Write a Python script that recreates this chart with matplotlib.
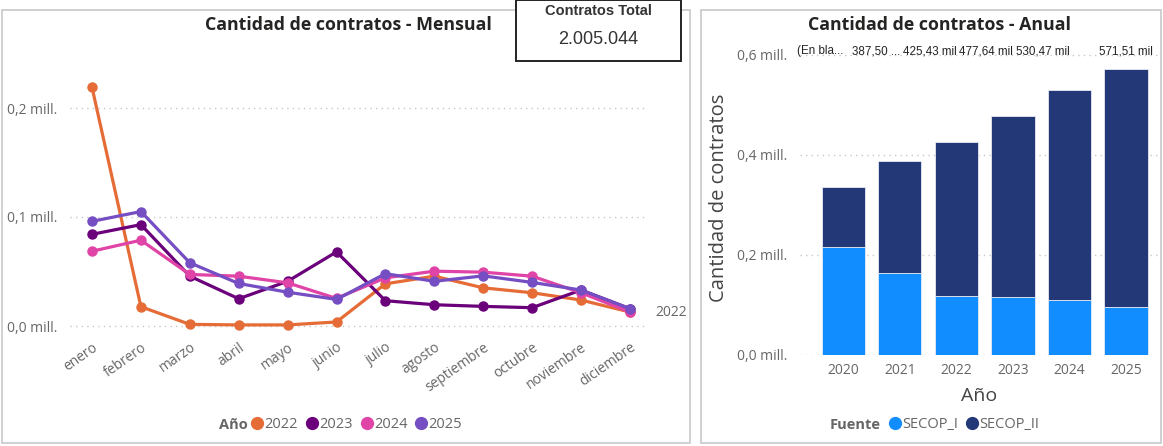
import matplotlib.pyplot as plt
import matplotlib.patches as patches
from matplotlib.lines import Line2D
import numpy as np

plt.rcParams['font.family'] = ['Open Sans', 'DejaVu Sans']

meses = ['enero', 'febrero', 'marzo', 'abril', 'mayo', 'junio', 'julio',
         'agosto', 'septiembre', 'octubre', 'noviembre', 'diciembre']
anios_linea = ['2022', '2023', '2024', '2025']
# millones de contratos por mes
m2022 = [0.219, 0.0177, 0.0015, 0.001, 0.001, 0.0037, 0.0387, 0.0457, 0.035, 0.0305, 0.0238, 0.0128]
m2023 = [0.0841, 0.093, 0.0457, 0.025, 0.041, 0.068, 0.0232, 0.0195, 0.018, 0.0168, 0.033, 0.0159]
m2024 = [0.0686, 0.0787, 0.0473, 0.0457, 0.0396, 0.0253, 0.0442, 0.0503, 0.0494, 0.0457, 0.0305, 0.0128]
m2025 = [0.096, 0.105, 0.058, 0.039, 0.031, 0.0244, 0.048, 0.041, 0.046, 0.040, 0.033, 0.0159]
colores_linea = ['#E66C37', '#6B007B', '#E044A7', '#744EC2']

anios_barra = ['2020', '2021', '2022', '2023', '2024', '2025']
secop_i = [0.2166, 0.1646, 0.1186, 0.1153, 0.110, 0.0953]
total_anual = [0.3366, 0.3875, 0.42543, 0.47764, 0.53047, 0.57151]
secop_ii = [t - s for t, s in zip(total_anual, secop_i)]
etiquetas_total = ['(En bla...', '387,50 ...', '425,43 mil', '477,64 mil', '530,47 mil', '571,51 mil']
color_i = '#118DFF'
color_ii = '#233876'

W, H = 1163, 446
fig = plt.figure(figsize=(W / 100, H / 100), dpi=100)

def fr(x0, y0, x1, y1):
    # pixel box -> figure fraction [left, bottom, width, height]
    return [x0 / W, 1 - y1 / H, (x1 - x0) / W, (y1 - y0) / H]

gray_txt = '#666666'
dark_txt = '#252423'

# panel borders
for (x0, y0, x1, y1) in [(2, 10, 690, 443), (701, 10, 1161, 443)]:
    fig.patches.append(patches.Rectangle((x0 / W, 1 - y1 / H), (x1 - x0) / W, (y1 - y0) / H,
                                         transform=fig.transFigure, fill=False,
                                         edgecolor='#c8c8c8', linewidth=1.2))

# ---- monthly lines ----
ax = fig.add_axes(fr(70, 40, 648, 335))
X = np.arange(len(meses))
for serie, anio, c in zip([m2022, m2023, m2024, m2025], anios_linea, colores_linea):
    ax.plot(X, serie, color=c, linewidth=2.3, marker='o', markersize=6.5, label=anio, clip_on=False)
ax.set_xlim(-0.45, 11.37)
ax.set_ylim(-9 / 1090, 286 / 1090)
ax.set_yticks([0, 0.1, 0.2])
ax.set_yticklabels(['0,0 mill.', '0,1 mill.', '0,2 mill.'])
ax.grid(axis='y', linestyle=(0, (1, 3)), color='#c8c8c8', linewidth=1)
ax.set_xticks(X)
ax.set_xticklabels(meses, rotation=35, ha='right', rotation_mode='anchor')
ax.tick_params(length=0, labelsize=10, labelcolor=gray_txt)
ax.tick_params(axis='y', pad=9)
for s in ax.spines.values():
    s.set_visible(False)
ax.annotate('2022', (11, m2022[-1]), xytext=(18, 0), textcoords='offset points',
            va='center', ha='left', fontsize=10, color=gray_txt)
fig.text(348 / W, 1 - 25 / H, 'Cantidad de contratos - Mensual', ha='center', va='center',
         fontsize=12.8, fontweight='bold', color=dark_txt)
fig.text(219 / W, 1 - 425 / H, 'Año', ha='left', va='center', fontsize=10.5,
         fontweight='bold', color=gray_txt)
handles = [Line2D([], [], marker='o', linestyle='none', color=c, markersize=8.5) for c in colores_linea]
fig.legend(handles, anios_linea, loc='center left', bbox_to_anchor=(250 / W, 1 - 425 / H),
           ncol=4, frameon=False, handletextpad=0.0, columnspacing=0.45, handlelength=1.0,
           fontsize=10.5, labelcolor=gray_txt, borderaxespad=0, borderpad=0)

# ---- total card ----
fig.patches.append(patches.Rectangle((516 / W, 1 - 61 / H), 165 / W, 61 / H,
                                     transform=fig.transFigure, facecolor='white',
                                     edgecolor='#222222', linewidth=1.4, zorder=5))
fig.text(598 / W, 1 - 11 / H, 'Contratos Total', ha='center', va='center', fontsize=10.5,
         fontweight='bold', color='#333333', family='Liberation Sans', zorder=6)
fig.text(598 / W, 1 - 40 / H, '2.005.044', ha='center', va='center', fontsize=13,
         color='#333333', family='Liberation Sans', zorder=6)

# ---- annual bars ----
bx = fig.add_axes(fr(800, 40, 1158, 355))
XB = np.arange(len(anios_barra))
bx.bar(XB, secop_i, width=0.765, color=color_i, edgecolor='#e6e9f2', linewidth=0.6, label='SECOP_I')
bx.bar(XB, secop_ii, width=0.765, bottom=secop_i, color=color_ii, edgecolor='#e6e9f2',
       linewidth=0.6, label='SECOP_II')
bx.set_xlim(-0.765, 5.565)
bx.set_ylim(0, 0.63)
bx.set_yticks([0, 0.2, 0.4, 0.6])
bx.set_yticklabels(['0,0 mill.', '0,2 mill.', '0,4 mill.', '0,6 mill.'])
bx.set_xticks(XB)
bx.set_xticklabels(anios_barra)
bx.grid(axis='y', linestyle=(0, (1, 3)), color='#c8c8c8', linewidth=1)
bx.set_axisbelow(True)
bx.tick_params(length=0, labelsize=10, labelcolor=gray_txt)
bx.tick_params(axis='y', pad=9)
bx.tick_params(axis='x', pad=6)
for s in bx.spines.values():
    s.set_visible(False)
bx.set_xlabel('Año', fontsize=14, color='#444444', labelpad=6)
bx.set_ylabel('Cantidad de contratos', fontsize=14.5, color='#444444', labelpad=6)
for i, lab in enumerate(etiquetas_total):
    ha = 'center' if i == len(etiquetas_total) - 1 else 'right'
    bx.text(i, 0.608, lab, ha=ha, va='center', fontsize=8.4, color=dark_txt,
            family='Liberation Sans')
fig.text(940 / W, 1 - 25 / H, 'Cantidad de contratos - Anual', ha='center', va='center',
         fontsize=12.8, fontweight='bold', color=dark_txt)
fig.text(830 / W, 1 - 425 / H, 'Fuente', ha='left', va='center', fontsize=10.5,
         fontweight='bold', color=gray_txt)
handles2 = [Line2D([], [], marker='o', linestyle='none', color=c, markersize=8.5) for c in [color_i, color_ii]]
fig.legend(handles2, ['SECOP_I', 'SECOP_II'], loc='center left', bbox_to_anchor=(888 / W, 1 - 425 / H),
           ncol=2, frameon=False, handletextpad=0.0, columnspacing=0.45, handlelength=1.0,
           fontsize=10.5, labelcolor=gray_txt, borderaxespad=0, borderpad=0)

fig.savefig('out.png', dpi=100)
